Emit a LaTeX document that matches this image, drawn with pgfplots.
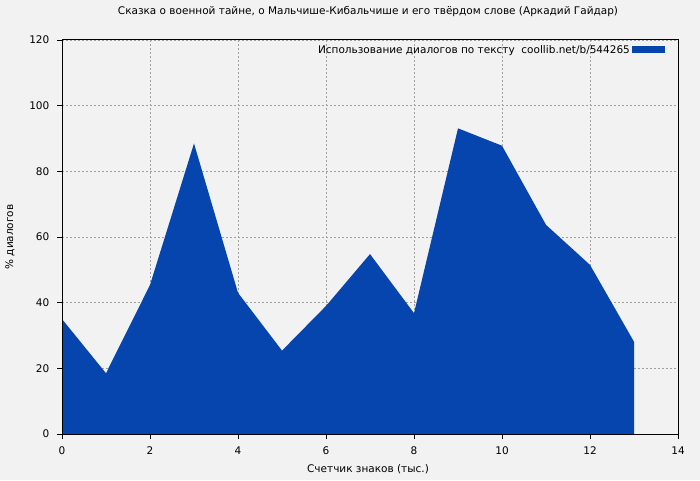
\documentclass[border=0pt]{standalone}
\usepackage{fontspec}
\setmainfont{DejaVu Sans}
\usepackage{pgfplots}
\pgfplotsset{compat=1.18}
\definecolor{bgc}{HTML}{F2F2F2}
\definecolor{fillc}{HTML}{0645AD}
\definecolor{gridc}{HTML}{A0A0A0}
\newcommand{\fs}{\fontsize{10.5pt}{12.5pt}\selectfont}
\begin{document}
\fs
\begin{tikzpicture}[x=1pt,y=1pt]
\begin{axis}[
  set layers=standard,
  axis on top=false,
  at={(62pt,46pt)}, anchor=south west,
  scale only axis, width=616pt, height=394pt,
  xmin=0, xmax=14, ymin=0, ymax=120,
  xtick={0,2,...,14}, ytick={0,20,...,120},
  tick align=outside, tick pos=left,
  major tick length=5pt,
  tick style={black, line width=0.8pt},
  axis line style={black, line width=1pt},
  grid=major,
  grid style={gridc, dash pattern=on 2pt off 2pt, line width=0.8pt},
  /pgf/number format/assume math mode=true,
  ticklabel style={font=\fs},
  xticklabel style={yshift=-4pt},
  yticklabel style={xshift=-4pt},
  title={Сказка о военной тайне, о Мальчише-Кибальчише и его твёрдом слове (Аркадий Гайдар)},
  title style={at={(rel axis cs:0.5,1)}, anchor=center, yshift=22pt, xshift=-2pt, font=\fs},
  xlabel={Счетчик знаков (тыс.)},
  xlabel style={at={(rel axis cs:0.5,0)}, anchor=center, yshift=-35pt, xshift=-2pt, font=\fs},
  ylabel={\% диалогов},
  ylabel style={at={(rel axis cs:0,0.5)}, anchor=center, yshift=52pt, font=\fs},
  legend plot pos=right,
  legend style={at={(rel axis cs:0.979,0.975)}, anchor=east, draw=none, fill=none, inner sep=0pt, font=\fs},
  legend image code/.code={\fill[fillc] (11pt,-3.5pt) rectangle (44pt,3.5pt);},
]
\begin{pgfonlayer}{axis background}
\fill[bgc] ([xshift=-62pt,yshift=-46pt]rel axis cs:0,0) rectangle ([xshift=22pt,yshift=40pt]rel axis cs:1,1);
\end{pgfonlayer}
\addplot[fill=fillc, draw=none] coordinates {
(0,0) (0,35) (1,18.5) (2,45.4) (3,88.5) (4,43) (5,25.4) (6,39) (7,54.8) (8,36.8) (9,93.1) (10,87.8) (11,63.7) (12,51.5) (13,28.1) (13,0)
} \closedcycle;
\addlegendentry{Использование диалогов по тексту\ \ coollib.net/b/544265\hspace{8pt}}
\draw[black, line width=1pt] (rel axis cs:0,0) rectangle (rel axis cs:1,1);
\end{axis}
\path (0,0) rectangle (700,480);
\end{tikzpicture}
\end{document}
